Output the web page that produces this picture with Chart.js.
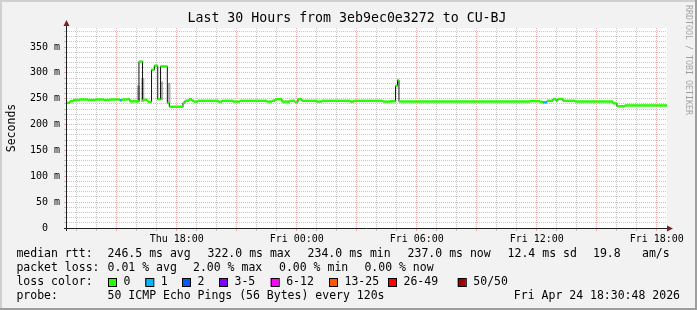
<!DOCTYPE html>
<html>
<head>
<meta charset="utf-8">
<title>Last 30 Hours from 3eb9ec0e3272 to CU-BJ</title>
<script src="https://cdn.jsdelivr.net/npm/chart.js@4.4.1/dist/chart.umd.min.js"></script>
<style>
    html, body { margin: 0; padding: 0; background: #f2f2f2; }
    canvas { display: block; }
</style>
</head>
<body>
<canvas id="smokeChart" width="697" height="310"></canvas>
<script>
// Time axis is in hours since Thu 00:00 (graph covers Thu 12:30:48 .. Fri 18:30:48)
const startHour = 12.513;
const endHour = 42.513;

// Median RTT (ms) - each value holds until the next time
const times = [12.51, 12.66, 12.81, 13.16, 13.56, 13.91, 14.36, 14.66, 15.16, 15.26,
    15.51, 15.66, 16.11, 16.29, 16.51, 16.56, 16.74, 16.88, 17.05, 17.19,
    17.53, 17.63, 18.31, 18.41, 18.61, 18.76, 18.86, 19.06, 20.06, 20.26,
    20.81, 21.16, 22.51, 22.76, 22.91, 23.26, 23.66, 23.91, 24.06, 24.26,
    25.01, 25.26, 26.66, 26.86, 28.31, 28.66, 28.94, 29.04, 29.11, 35.66,
    36.16, 36.31, 36.51, 36.81, 36.96, 37.06, 37.31, 37.91, 39.81, 40.01,
    40.41, 41.16, 42.51];
const median = [242, 245, 247.5, 248.5, 247.5, 248.5, 247.5, 248.5, 247, 248.5,
    249, 245, 322, 248, 246, 244, 306, 314, 249, 312.5,
    241.5, 234.5, 242, 246, 249, 246, 244.5, 246, 244.5, 246,
    244.5, 246, 244.5, 246, 249, 244.5, 246, 243, 249, 246,
    244.5, 246, 244.5, 246, 244.5, 245, 275, 286, 244.5, 245.5,
    244, 243, 246, 249.5, 246, 249.5, 246, 244.5, 241, 235.5,
    237, 237, 237];
// packet loss bucket per step (index into lossColors)
const loss = [0, 0, 0, 0, 0, 0, 0, 0, 1, 0,
    0, 0, 0, 0, 0, 0, 0, 0, 0, 0,
    0, 0, 0, 0, 0, 0, 0, 0, 0, 0,
    0, 0, 0, 0, 0, 0, 0, 0, 0, 0,
    0, 0, 0, 0, 0, 0, 0, 0, 0, 0,
    0, 1, 0, 0, 0, 0, 0, 0, 0, 0,
    0, 0, 0];

// Smoke (spread of the pings) where it is visible
const smokeTimes = [16.09, 16.30, 17.24, 17.61];
const smokeLow = [245, 244, 248, 241];
const smokeHigh = [275, 289, 283, 280];

const yMax = 386.8;
const yTickValues = [0, 50, 100, 150, 200, 250, 300, 350];
const yTickLabels = ['0  ', '50 m', '100 m', '150 m', '200 m', '250 m', '300 m', '350 m'];
const xTickHours = [18, 24, 30, 36, 42];
const xTickLabels = ['Thu 18:00', 'Fri 00:00', 'Fri 06:00', 'Fri 12:00', 'Fri 18:00'];

const lossLabels = ['0', '1', '2', '3-5', '6-12', '13-25', '26-49', '50/50'];
const lossColors = ['#26ff00', '#00b8ff', '#0059ff', '#7e00ff', '#ff00ff', '#ff5500', '#ff0000', '#a10000'];

const rttStats = ['246.5 ms avg', '322.0 ms max', '234.0 ms min', '237.0 ms now', '12.4 ms sd', '19.8', 'am/s'];
const lossStats = ['0.01 % avg', '2.00 % max', '0.00 % min', '0.00 % now'];
const probeText = '50 ICMP Echo Pings (56 Bytes) every 120s';
const stampText = 'Fri Apr 24 18:30:48 2026';
const titleText = 'Last 30 Hours from 3eb9ec0e3272 to CU-BJ';

const GRID = 'rgba(143,143,143,0.5)';
const MGRID = 'rgba(222,79,79,0.45)';
const MONO = '"DejaVu Sans Mono", monospace';

// Build step line (black, shows the vertical jumps) and horizontal parts (loss colour)
const stepPoints = times.map((t, i) => ({ x: t, y: median[i] }));
const flatPoints = [];
for (let i = 0; i < times.length - 1; i++) {
    flatPoints.push({ x: times[i], y: median[i] });
    flatPoints.push({ x: times[i + 1], y: median[i] });
    flatPoints.push({ x: times[i + 1], y: null });
}
const smokeBars = smokeTimes.map((t, i) => ({ x: t, y: [smokeLow[i], smokeHigh[i]] }));

// minor grid: every hour / every 10 ms
const hourTicks = [];
for (let h = Math.ceil(startHour); h <= Math.floor(endHour); h++) hourTicks.push(h);
const msTicks = [];
for (let v = 0; v <= yMax; v += 10) msTicks.push(v);

const rrdDecor = {
    id: 'rrdDecor',
    beforeDraw(chart) {
        const ctx = chart.ctx, a = chart.chartArea, W = chart.width, H = chart.height;
        ctx.save();
        ctx.fillStyle = '#f2f2f2';
        ctx.fillRect(0, 0, W, H);
        ctx.fillStyle = '#cfcfcf';
        ctx.fillRect(0, 0, W, 2);
        ctx.fillRect(0, 0, 2, H);
        ctx.fillStyle = '#9e9e9e';
        ctx.fillRect(0, H - 2, W, 2);
        ctx.fillRect(W - 2, 0, 2, H);
        ctx.fillStyle = '#ffffff';
        ctx.fillRect(a.left, a.top, a.right - a.left, a.bottom - a.top);
        ctx.restore();
    },
    afterDraw(chart) {
        const ctx = chart.ctx, a = chart.chartArea;
        ctx.save();

        // axes + arrows
        const ax = Math.floor(a.left) - 0.5, ay = Math.floor(a.bottom) + 0.5;
        ctx.strokeStyle = '#1f1f1f';
        ctx.lineWidth = 1;
        ctx.beginPath();
        ctx.moveTo(a.left - 3, ay); ctx.lineTo(a.right + 2, ay);
        ctx.moveTo(ax, a.bottom + 3); ctx.lineTo(ax, a.top - 4);
        ctx.stroke();
        ctx.fillStyle = '#801f1f';
        ctx.beginPath();
        ctx.moveTo(a.right, ay - 3); ctx.lineTo(a.right + 6, ay); ctx.lineTo(a.right, ay + 3);
        ctx.closePath(); ctx.fill();
        ctx.beginPath();
        ctx.moveTo(ax - 3, a.top - 2); ctx.lineTo(ax, a.top - 8); ctx.lineTo(ax + 3, a.top - 2);
        ctx.closePath(); ctx.fill();

        // title
        ctx.fillStyle = '#000';
        ctx.textBaseline = 'middle';
        ctx.textAlign = 'center';
        ctx.font = '13.25px ' + MONO;
        ctx.fillText(titleText, 347, 19);

        // legend block
        ctx.textAlign = 'left';
        ctx.font = '11.5px ' + MONO;
        const rttX = [107.6, 207.6, 307.6, 407.6, 507.6, 593, 642];
        ctx.fillText('median rtt:', 16.4, 254);
        rttStats.forEach((s, i) => ctx.fillText(s, rttX[i], 254));
        const lossX = [107.6, 193, 279, 364.4];
        ctx.fillText('packet loss:', 16.4, 268);
        lossStats.forEach((s, i) => ctx.fillText(s, lossX[i], 268));
        ctx.fillText('loss color:', 16.4, 282);
        const boxX = [108, 145.3, 182, 219, 270.7, 329, 388, 457.8];
        lossLabels.forEach((s, i) => {
            ctx.fillStyle = lossColors[i];
            ctx.fillRect(boxX[i], 278, 8, 8);
            ctx.strokeStyle = '#000';
            ctx.strokeRect(boxX[i] + 0.5, 278.5, 8, 8);
            ctx.fillStyle = '#000';
            ctx.fillText(s, boxX[i] + 15.5, 282);
        });
        ctx.fillText('probe:', 16.4, 296.5);
        ctx.fillText(probeText, 107.6, 296.5);
        ctx.textAlign = 'right';
        ctx.fillText(stampText, 680, 296.5);

        // watermark
        ctx.translate(688, 5);
        ctx.rotate(Math.PI / 2);
        ctx.textAlign = 'left';
        ctx.font = '8.3px ' + MONO;
        ctx.fillStyle = 'rgba(0,0,0,0.35)';
        ctx.fillText('RRDTOOL / TOBI OETIKER', 0, 0);
        ctx.restore();
    }
};

new Chart(document.getElementById('smokeChart'), {
    type: 'line',
    data: {
        datasets: [
            {
                label: 'median',
                data: flatPoints,
                borderColor: lossColors[0],
                borderWidth: 2.5,
                pointRadius: 0,
                spanGaps: false,
                order: 0,
                segment: {
                    borderColor: c => lossColors[loss[Math.floor(c.p0DataIndex / 3)]]
                }
            },
            {
                label: 'steps',
                data: stepPoints,
                borderColor: '#111',
                borderWidth: 1,
                stepped: true,
                pointRadius: 0,
                order: 1
            },
            {
                type: 'bar',
                label: 'smoke',
                data: smokeBars,
                backgroundColor: 'rgba(0,0,0,0.3)',
                barThickness: 2.5,
                order: 2
            }
        ]
    },
    options: {
        responsive: false,
        animation: false,
        devicePixelRatio: 1,
        layout: { padding: { top: 28, right: 30, left: 0, bottom: 0 } },
        plugins: {
            legend: { display: false },
            tooltip: { enabled: false },
            title: { display: false }
        },
        scales: {
            x: {
                type: 'linear',
                min: startHour,
                max: endHour,
                offset: false,
                afterBuildTicks: s => { s.ticks = hourTicks.map(v => ({ value: v })); },
                afterFit: s => { s.height = 82; },
                grid: {
                    offset: false,
                    color: c => (c.tick && c.tick.value % 3 === 0) ? MGRID : GRID,
                    lineWidth: 1,
                    tickLength: 3
                },
                border: { display: false, dash: [1, 1] },
                ticks: {
                    autoSkip: false,
                    maxRotation: 0,
                    padding: 2,
                    color: '#000',
                    font: { family: MONO, size: 10 },
                    callback: v => {
                        const k = xTickHours.indexOf(v);
                        return k >= 0 ? xTickLabels[k] : '';
                    }
                }
            },
            y: {
                min: 0,
                max: yMax,
                afterBuildTicks: s => { s.ticks = msTicks.map(v => ({ value: v })); },
                afterFit: s => { s.width = 67; },
                grid: {
                    color: c => (c.tick && c.tick.value % 50 === 0) ? MGRID : GRID,
                    lineWidth: 1,
                    tickLength: 3
                },
                border: { display: false, dash: [1, 1] },
                ticks: {
                    autoSkip: false,
                    padding: 4,
                    color: '#000',
                    font: { family: MONO, size: 10 },
                    callback: v => {
                        const k = yTickValues.indexOf(v);
                        return k >= 0 ? yTickLabels[k] : '';
                    }
                },
                title: {
                    display: true,
                    text: 'Seconds',
                    color: '#000',
                    font: { family: MONO, size: 11.5 },
                    padding: { top: 5, bottom: 0 }
                }
            }
        }
    },
    plugins: [rrdDecor]
});
</script>
</body>
</html>
